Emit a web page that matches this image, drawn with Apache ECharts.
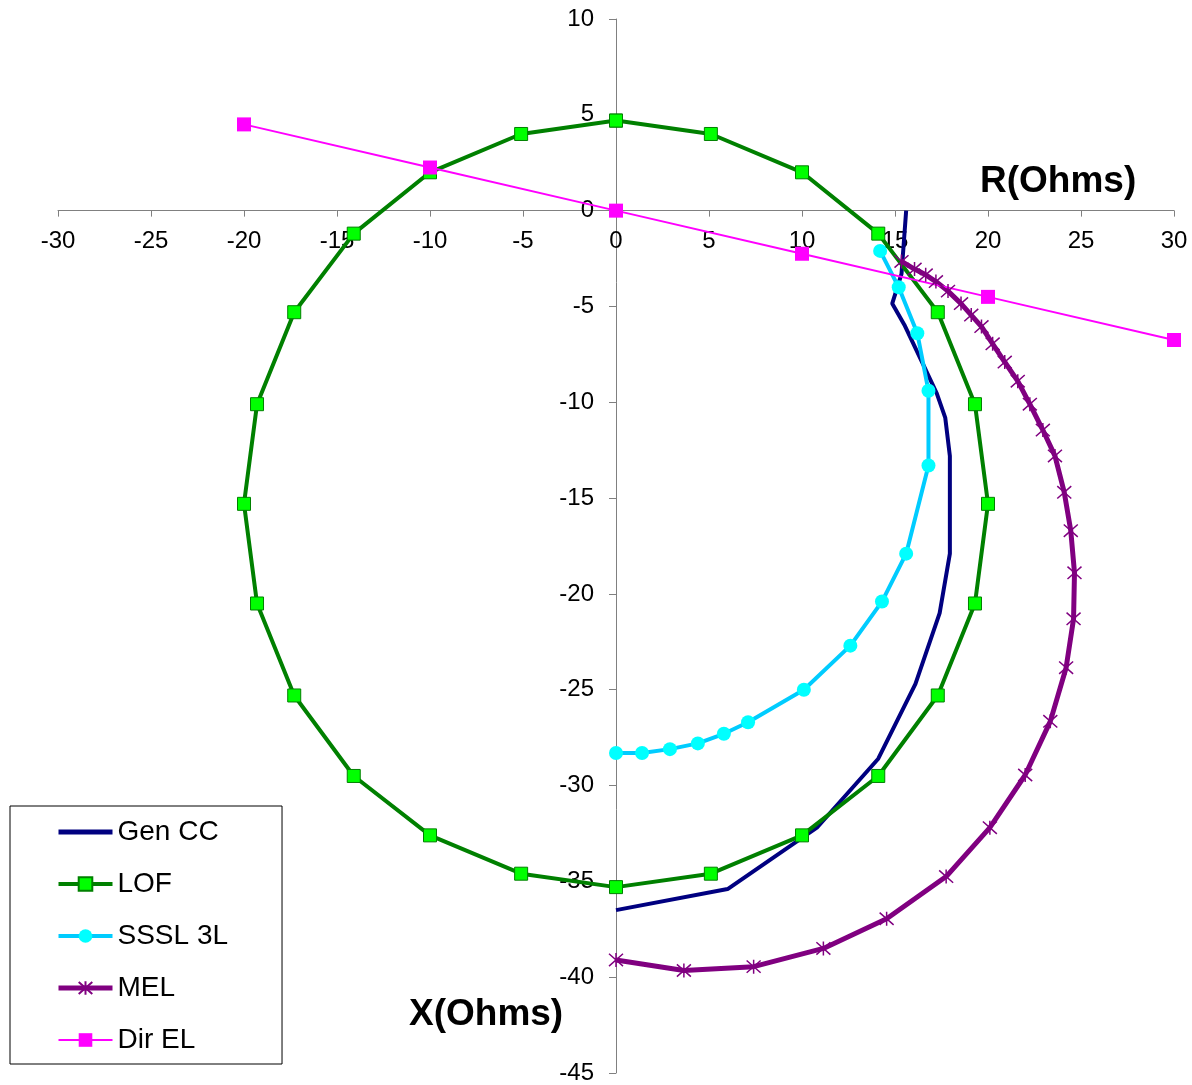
<!DOCTYPE html>
<html>
<head>
<meta charset="utf-8">
<style>
  html, body { margin: 0; padding: 0; background: #ffffff; }
  #chart { width: 1192px; height: 1085px; }
</style>
<script src="https://cdn.jsdelivr.net/npm/echarts@6/dist/echarts.min.js"></script>
</head>
<body>
<div id="chart"></div>
<script>
// Impedance-plane characteristics, R (Ohms) horizontal, X (Ohms) vertical
const seriesNames = ['Gen CC', 'LOF', 'SSSL 3L', 'MEL', 'Dir EL'];

// Generator capability curve
const genR = [15.6, 15.35, 14.85, 15.5, 16.5, 17.25, 17.7, 17.95, 17.95, 17.4, 16.1, 14.1, 10.8, 6.0, 0];
const genX = [0, -3.3, -4.85, -5.95, -8.0, -9.55, -10.8, -12.8, -17.9, -21.0, -24.7, -28.6, -32.2, -35.4, -36.5];

// Loss-of-field mho circle
const lofR = [0, 5.1, 10.0, 14.1, 17.3, 19.3, 20.0, 19.3, 17.3, 14.1, 10.0, 5.1, 0,
              -5.1, -10.0, -14.1, -17.3, -19.3, -20.0, -19.3, -17.3, -14.1, -10.0, -5.1, 0];
const lofX = [4.7, 4.0, 2.0, -1.2, -5.3, -10.1, -15.3, -20.5, -25.3, -29.5, -32.6, -34.6, -35.3,
              -34.6, -32.6, -29.5, -25.3, -20.5, -15.3, -10.1, -5.3, -1.2, 2.0, 4.0, 4.7];

// Steady-state stability limit, 3 lines
const ssslR = [14.2, 15.2, 16.2, 16.8, 16.8, 15.6, 14.3, 12.6, 10.1, 7.1, 5.8, 4.4, 2.9, 1.4, 0];
const ssslX = [-2.1, -4.0, -6.4, -9.4, -13.3, -17.9, -20.4, -22.7, -25.0, -26.7, -27.3, -27.8, -28.1, -28.3, -28.3];

// Minimum excitation limiter
const melR = [15.35, 16.05, 16.65, 17.2, 17.85, 18.55, 19.1, 19.65, 20.25, 20.9, 21.6, 22.25, 22.95, 23.6,
              24.1, 24.45, 24.65, 24.6, 24.2, 23.35, 22.0, 20.1, 17.75, 14.55, 11.15, 7.4, 3.65, 0];
const melX = [-2.65, -3.05, -3.35, -3.7, -4.2, -4.85, -5.45, -6.05, -6.95, -7.9, -8.9, -10.1, -11.45, -12.8,
              -14.7, -16.7, -18.9, -21.3, -23.85, -26.65, -29.45, -32.2, -34.75, -36.95, -38.5, -39.45, -39.65, -39.1];

// Directional element
const dirR = [-20, -10, 0, 10, 20, 30];
const dirX = [4.5, 2.25, 0, -2.25, -4.5, -6.75];

// Axis ranges
const rAxis = { min: -30, max: 30, step: 5 };
const xAxisRange = { min: -45, max: 10, step: 5 };

function pairs(a, b) { return a.map((v, i) => [v, b[i]]); }

const FONT = '"Liberation Sans", Arial, sans-serif';
const asterisk = 'path://M5,0L5,10M0.6,0.6L9.4,9.4M0.6,9.4L9.4,0.6';

// Plot area in pixels; the axes are shifted so that they cross at (0, 0)
const W = 1192, H = 1085;
const G = { left: 58, right: 18, top: 19, bottom: 12 };
const plotW = W - G.left - G.right;
const plotH = H - G.top - G.bottom;
const zeroFromLeft = (0 - rAxis.min) / (rAxis.max - rAxis.min) * plotW;
const zeroFromBottom = (0 - xAxisRange.min) / (xAxisRange.max - xAxisRange.min) * plotH;

const chart = echarts.init(document.getElementById('chart'), null, { renderer: 'canvas' });

chart.setOption({
  animation: false,
  backgroundColor: '#ffffff',
  grid: { left: G.left, right: G.right, top: G.top, bottom: G.bottom, containLabel: false, outerBoundsMode: 'none' },
  xAxis: {
    type: 'value', position: 'bottom', offset: -zeroFromBottom,
    min: rAxis.min, max: rAxis.max, interval: rAxis.step,
    axisLine: { onZero: false, lineStyle: { color: '#808080', width: 1 } },
    axisTick: { show: true, inside: false, length: 6, lineStyle: { color: '#808080' } },
    axisLabel: { color: '#000', fontSize: 24, fontFamily: FONT, margin: 19 },
    splitLine: { show: false }
  },
  yAxis: {
    type: 'value', position: 'left', offset: -zeroFromLeft,
    min: xAxisRange.min, max: xAxisRange.max, interval: xAxisRange.step,
    axisLine: { onZero: false, lineStyle: { color: '#808080', width: 1 } },
    axisTick: { show: true, inside: false, length: 7, lineStyle: { color: '#808080' } },
    axisLabel: { color: '#000', fontSize: 24, fontFamily: FONT, margin: 22 },
    splitLine: { show: false }
  },
  legend: {
    orient: 'vertical',
    left: 10, top: 806,
    itemWidth: 54, itemHeight: 17, itemGap: 24,
    padding: [12, 54, 10, 46],
    borderColor: '#000', borderWidth: 1,
    backgroundColor: '#fff',
    textStyle: { color: '#000', fontSize: 28, lineHeight: 28, fontFamily: FONT },
    data: [
      { name: seriesNames[0], lineStyle: { width: 5 } },
      { name: seriesNames[1], lineStyle: { width: 4 } },
      { name: seriesNames[2], lineStyle: { width: 4 } },
      { name: seriesNames[3], lineStyle: { width: 5 } },
      { name: seriesNames[4], lineStyle: { width: 2 } }
    ]
  },
  graphic: [
    {
      type: 'text', x: 980, y: 182, z: 100,
      style: { text: 'R(Ohms)', font: 'bold 37px ' + FONT, fill: '#000', verticalAlign: 'middle' }
    },
    {
      type: 'text', x: 409, y: 1015, z: 100,
      style: { text: 'X(Ohms)', font: 'bold 37px ' + FONT, fill: '#000', verticalAlign: 'middle' }
    }
  ],
  series: [
    {
      name: seriesNames[0], type: 'line', data: pairs(genR, genX),
      symbol: 'none',
      itemStyle: { color: 'rgba(0,0,0,0)', borderWidth: 0 },
      lineStyle: { color: '#000080', width: 4 }
    },
    {
      name: seriesNames[1], type: 'line', data: pairs(lofR, lofX),
      symbol: 'rect', symbolSize: 13,
      itemStyle: { color: '#00FF00', borderColor: '#008000', borderWidth: 1 },
      lineStyle: { color: '#008000', width: 4 }
    },
    {
      name: seriesNames[2], type: 'line', data: pairs(ssslR, ssslX),
      symbol: 'circle', symbolSize: 14,
      itemStyle: { color: '#00FFFF', borderColor: '#00FFFF', borderWidth: 0 },
      lineStyle: { color: '#00CCFF', width: 4 }
    },
    {
      name: seriesNames[3], type: 'line', data: pairs(melR, melX),
      symbol: asterisk, symbolSize: 14,
      itemStyle: { color: '#800080', borderColor: '#800080', borderWidth: 1.5 },
      lineStyle: { color: '#800080', width: 5 }
    },
    {
      name: seriesNames[4], type: 'line', data: pairs(dirR, dirX),
      symbol: 'rect', symbolSize: 14,
      itemStyle: { color: '#FF00FF', borderColor: '#FF00FF', borderWidth: 0 },
      lineStyle: { color: '#FF00FF', width: 2 }
    }
  ]
});
</script>
</body>
</html>
